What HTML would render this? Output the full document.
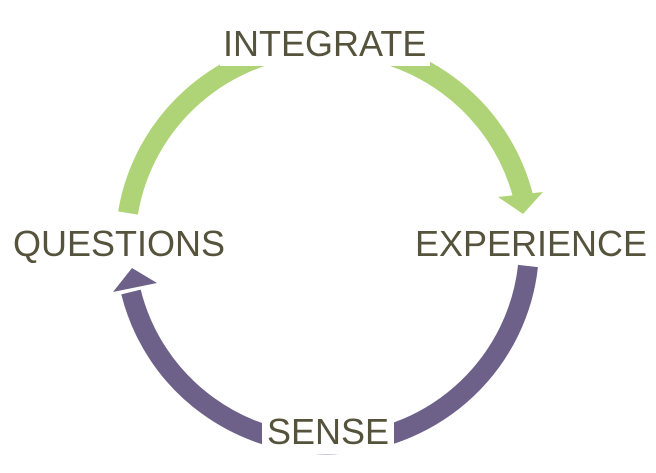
<!DOCTYPE html>
<html><head><meta charset="utf-8"><style>
html,body{margin:0;padding:0;background:#fff;width:656px;height:473px;overflow:hidden}
text{font-family:"Liberation Sans",sans-serif;font-size:36px;fill:#56533d}
</style></head><body>
<svg width="656" height="473" viewBox="0 0 656 473" xmlns="http://www.w3.org/2000/svg">
<path d="M128,213 A202,200 0 0 1 523,196" fill="none" stroke="#afd477" stroke-width="20"/>
<polygon points="498,197 543,192 523,214" fill="#afd477"/>
<path d="M528,266 A202,200 0 0 1 131,292" fill="none" stroke="#6e6189" stroke-width="20"/>
<polygon points="113,292 157,283 132,268" fill="#6e6189"/>
<rect x="220" y="20" width="210" height="46" fill="#fff"/>
<rect x="262" y="410" width="132" height="44" fill="#fff"/>
<text x="223" y="56">INTEGRATE</text>
<text x="13" y="256">QUESTIONS</text>
<text x="415" y="256">EXPERIENCE</text>
<text x="267" y="444">SENSE</text>
</svg>
</body></html>
